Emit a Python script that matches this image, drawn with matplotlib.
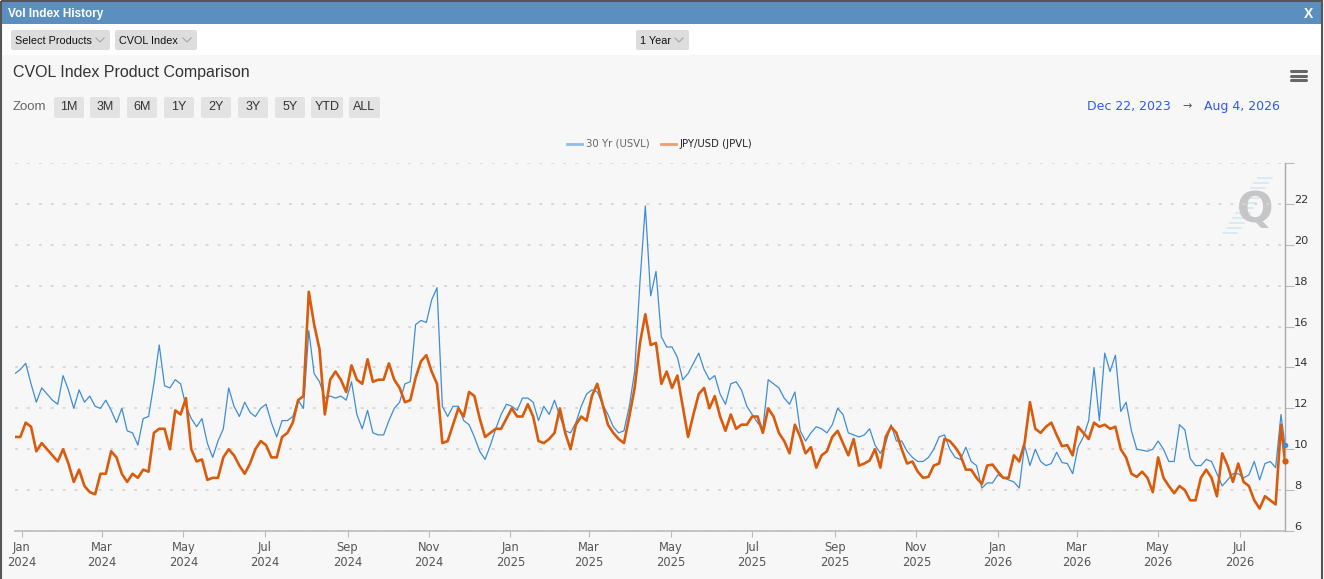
import numpy as np
import pandas as pd
import matplotlib
matplotlib.use("Agg")
import matplotlib.pyplot as plt
import matplotlib.dates as mdates
from matplotlib.patches import Rectangle, FancyBboxPatch
from matplotlib.transforms import ScaledTranslation

# ---- data (one value every 4 days + last print) ----
dates = pd.date_range("2023-12-27", periods=238, freq="4D").append(pd.DatetimeIndex(["2026-08-04"]))

usvl = [
    13.7, 13.9, 14.2, 13.2, 12.3, 13.0, 12.7, 12.4, 12.2, 13.6,
    12.9, 12.0, 12.9, 12.3, 12.6, 12.1, 12.0, 12.4, 11.9, 11.3,
    12.0, 10.9, 10.8, 10.2, 11.5, 11.6, 13.2, 15.1, 13.1, 13.0,
    13.4, 13.2, 12.1, 11.5, 11.1, 11.5, 10.3, 9.6, 10.4, 11.0,
    13.0, 12.1, 11.6, 12.3, 11.8, 11.6, 12.0, 12.2, 11.3, 10.6,
    11.4, 11.4, 11.6, 12.4, 12.0, 15.8, 13.7, 13.3, 12.5, 12.6,
    12.5, 12.6, 12.4, 13.3, 11.7, 11.0, 11.9, 10.8, 10.7, 10.7,
    11.4, 12.0, 12.3, 13.2, 13.3, 16.1, 16.3, 16.2, 17.3, 17.9,
    12.1, 11.6, 12.1, 12.1, 11.4, 11.2, 10.6, 9.9, 9.5, 10.2,
    11.0, 11.7, 12.2, 12.1, 11.9, 12.5, 12.5, 12.3, 11.4, 12.1,
    11.7, 12.4, 11.6, 10.9, 10.8, 11.3, 12.1, 12.7, 12.9, 12.8,
    12.2, 11.7, 11.1, 10.8, 10.9, 12.1, 13.8, 18.2, 21.9, 17.5,
    18.7, 15.5, 15.0, 15.0, 14.5, 13.4, 13.7, 14.2, 14.7, 13.9,
    13.4, 13.6, 12.7, 12.2, 13.2, 13.3, 12.9, 12.1, 11.7, 11.3,
    11.0, 13.4, 13.2, 13.0, 12.5, 12.2, 12.8, 10.9, 10.4, 10.8,
    11.1, 11.0, 10.8, 11.2, 12.0, 11.7, 10.8, 10.7, 10.6, 10.7,
    11.0, 10.2, 9.8, 10.3, 11.2, 10.4, 10.4, 9.9, 9.6, 9.4,
    9.4, 9.6, 10.0, 10.6, 10.7, 10.0, 9.6, 9.5, 10.1, 9.4,
    9.2, 8.1, 8.35, 8.35, 8.75, 8.6, 8.5, 8.4, 8.1, 10.2,
    9.2, 10.0, 9.4, 9.2, 9.3, 9.85, 9.35, 9.3, 8.8, 10.1,
    10.6, 11.4, 14.0, 11.4, 14.7, 13.8, 14.6, 11.85, 12.3, 10.9,
    10.0, 9.95, 9.9, 10.0, 10.4, 10.0, 9.4, 9.4, 11.2, 10.95,
    9.55, 9.2, 9.2, 9.5, 9.4, 8.8, 8.2, 8.5, 8.8, 8.8,
    8.6, 8.75, 9.4, 8.5, 9.3, 9.4, 9.1, 11.7,
    10.2,
]

jpvl = [
    10.6, 10.6, 11.3, 11.1, 9.9, 10.3, 10.0, 9.7, 9.4, 10.0,
    9.3, 8.4, 9.0, 8.2, 7.9, 7.8, 8.8, 8.8, 9.9, 9.6,
    8.8, 8.4, 8.8, 8.6, 9.0, 8.9, 10.8, 11.0, 11.0, 10.0,
    11.9, 11.7, 12.5, 10.0, 9.4, 9.5, 8.5, 8.6, 8.6, 9.6,
    10.0, 9.7, 9.2, 8.8, 9.3, 10.0, 10.4, 10.2, 9.6, 9.6,
    10.6, 10.8, 11.3, 12.4, 12.6, 17.7, 16.1, 14.9, 11.7, 13.4,
    13.8, 13.4, 12.8, 14.1, 13.4, 13.2, 14.4, 13.3, 13.4, 13.4,
    14.2, 13.4, 13.0, 12.3, 12.4, 13.5, 14.3, 14.6, 13.8, 13.2,
    10.3, 10.4, 11.2, 12.0, 11.6, 12.8, 12.6, 11.5, 10.6, 10.8,
    11.0, 11.0, 11.5, 12.0, 11.6, 11.6, 12.2, 11.6, 10.4, 10.3,
    10.5, 10.8, 12.0, 10.8, 10.0, 11.2, 11.6, 11.4, 12.6, 13.2,
    12.2, 11.2, 10.8, 10.5, 10.3, 11.6, 13.0, 15.2, 16.6, 15.1,
    15.2, 13.2, 13.8, 13.0, 13.6, 12.1, 10.6, 11.7, 12.7, 13.0,
    12.0, 12.6, 11.6, 10.9, 11.7, 11.0, 11.2, 11.2, 11.6, 11.6,
    10.8, 12.0, 11.6, 10.8, 10.4, 9.8, 11.2, 10.6, 9.8, 10.1,
    9.1, 9.7, 9.9, 10.6, 10.9, 10.3, 9.7, 10.5, 9.2, 9.3,
    9.45, 10.0, 9.1, 10.6, 11.1, 10.8, 10.0, 9.3, 9.4, 8.9,
    8.6, 8.65, 9.2, 9.3, 10.5, 10.4, 10.1, 9.7, 9.0, 9.0,
    8.6, 8.3, 9.2, 9.25, 8.9, 8.6, 8.6, 9.7, 9.4, 10.3,
    12.3, 11.0, 10.8, 11.1, 11.3, 10.7, 10.15, 10.2, 9.7, 11.1,
    10.8, 10.5, 11.3, 11.1, 11.2, 11.0, 11.1, 10.0, 9.6, 8.8,
    8.65, 8.9, 8.6, 7.9, 9.6, 8.6, 8.2, 7.85, 8.2, 8.0,
    7.5, 7.5, 8.6, 9.0, 8.6, 7.7, 9.8, 9.2, 8.4, 9.3,
    8.4, 8.2, 7.5, 7.1, 7.7, 7.5, 7.3, 11.2,
    9.4,
]

series_names = ["30 Yr (USVL)", "JPY/USD (JPVL)"]
series_colors = ["#3f8dd6", "#d95b0c"]
zoom_buttons = ["1M", "3M", "6M", "1Y", "2Y", "3Y", "5Y", "YTD", "ALL"]
y_ticks = [6, 8, 10, 12, 14, 16, 18, 20, 22, 24]

assert len(usvl) == len(dates) and len(jpvl) == len(dates)

W, H = 1324, 579
fig = plt.figure(figsize=(W / 100, H / 100), dpi=100)
fig.patch.set_facecolor("#f7f7f7")

# background / widget chrome in pixel coordinates
bg = fig.add_axes([0, 0, 1, 1], zorder=0)
bg.set_xlim(0, W)
bg.set_ylim(H, 0)
bg.axis("off")

sans = ["Liberation Sans", "DejaVu Sans"]
bg.add_patch(Rectangle((2, 2), W - 4, 22, fc="#5b8fc0", ec="none"))
bg.add_patch(Rectangle((2, 24), W - 4, 31, fc="white", ec="none"))
bg.add_patch(Rectangle((1, 1), W - 3, H + 5, fill=False, ec="#555555", lw=1.5))
bg.text(8, 13.5, "Vol Index History", color="white", weight="bold", size=8.5, va="center", family=sans)
bg.text(1308, 13.5, "X", color="white", weight="bold", size=10, va="center", ha="center", family=sans)

for x0, x1, lab in [(11, 110, "Select Products"), (115, 197, "CVOL Index"), (636, 689, "1 Year")]:
    bg.add_patch(FancyBboxPatch((x0, 30), x1 - x0, 20, boxstyle="round,pad=0,rounding_size=2",
                                fc="#dddddd", ec="none"))
    bg.text(x0 + 4, 40.5, lab, size=7.8, va="center", color="#111", family=sans)
    bg.plot([x1 - 14, x1 - 10, x1 - 6], [38, 42, 38], color="#aaaaaa", lw=0.9)

bg.text(13, 73, "CVOL Index Product Comparison", size=11.5, color="#333333", va="center", family=sans)
for yy in (71, 75.5, 80):
    bg.plot([1291, 1306], [yy, yy], color="#666666", lw=2.2, solid_capstyle="round")

bg.text(13, 107.5, "Zoom", color="#666666", size=9.5, va="center", family=sans)
bx = [54, 90, 127, 164, 201, 238, 275, 311, 349]
bw = [30, 30, 30, 30, 30, 30, 30, 32, 31]
for x0, w, lab in zip(bx, bw, zoom_buttons):
    bg.add_patch(FancyBboxPatch((x0, 97), w, 21, boxstyle="round,pad=0,rounding_size=2",
                                fc="#e3e3e3", ec="none"))
    bg.text(x0 + w / 2, 107.5, lab, ha="center", va="center", size=9, color="#333333",
            family=["Liberation Sans Narrow", "Liberation Sans"])

bg.text(1171, 106.5, "Dec 22, 2023", ha="right", va="center", size=9, color="#3355ff", family="DejaVu Sans")
bg.text(1187, 106.5, "\u2192", ha="center", va="center", size=8, color="#555555", family="DejaVu Sans")
bg.text(1280, 106.5, "Aug 4, 2026", ha="right", va="center", size=9, color="#3355ff", family="DejaVu Sans")

# legend
bg.plot([567, 582], [144, 144], color=series_colors[0], lw=2, alpha=0.55)
bg.text(586, 144, series_names[0], color="#666666", size=7.3, va="center", family="DejaVu Sans")
bg.plot([661, 676], [144, 144], color=series_colors[1], lw=2, alpha=0.55)
bg.text(680, 144, series_names[1], color="#222222", size=7.3, va="center", family="DejaVu Sans")

# watermark logo
for k in range(12):
    yy = 178 + k * 5
    xl = 1260 - (yy - 174) * 0.62
    bg.plot([xl, xl + 14], [yy, yy], color="#cfe7f5", lw=1.1)
bg.text(1255, 210, "Q", size=31, weight="bold", color="#c6c6c6", ha="center", va="center", family="DejaVu Sans")

# ---- main chart ----
ax = fig.add_axes([15 / W, 48 / H, 1270 / W, 368 / H], zorder=1)
ax.set_facecolor("none")

ax.plot(dates, usvl, color=series_colors[0], lw=0.9, zorder=3)
ax.plot(dates, jpvl, color=series_colors[1], lw=1.9, zorder=4)
ax.plot(dates[-1:], usvl[-1:], "o", ms=3, color=series_colors[0], clip_on=False, zorder=5)
ax.plot(dates[-1:], jpvl[-1:], "o", ms=3.5, color=series_colors[1], clip_on=False, zorder=5)

ax.set_xlim(pd.Timestamp("2023-12-27"), pd.Timestamp("2026-08-04"))
ax.set_ylim(6, 24)

ax.yaxis.tick_right()
ax.set_yticks(y_ticks)
ax.set_yticklabels([str(v) if v < 24 else "" for v in y_ticks])
ax.grid(axis="y", color="#d6d6d6", linestyle=(0, (1.6, 5)), lw=1.3)
ax.tick_params(axis="y", which="both", length=6.5, width=0.8, color="#bbbbbb", pad=0,
               labelsize=8.2, labelcolor="#333333")
for lab in ax.get_yticklabels():
    lab.set_fontfamily("DejaVu Sans")
    lab.set_transform(lab.get_transform() + ScaledTranslation(0, 5 / 100, fig.dpi_scale_trans))

ax.xaxis.set_major_locator(mdates.MonthLocator(bymonth=[1, 3, 5, 7, 9, 11]))
ax.xaxis.set_major_formatter(mdates.DateFormatter("%b\n%Y"))
ax.tick_params(axis="x", length=4.5, width=0.8, color="#bbbbbb", pad=2.5,
               labelsize=8.3, labelcolor="#555555")
for lab in ax.get_xticklabels():
    lab.set_fontfamily("DejaVu Sans")
    lab.set_linespacing(1.25)

for side in ("top", "left"):
    ax.spines[side].set_visible(False)
ax.spines["bottom"].set_color("#bbbbbb")
ax.spines["bottom"].set_linewidth(1.2)
ax.spines["right"].set_color("#aaaaaa")
ax.spines["right"].set_linewidth(1.0)

fig.savefig("out.png", dpi=100, facecolor=fig.get_facecolor())
